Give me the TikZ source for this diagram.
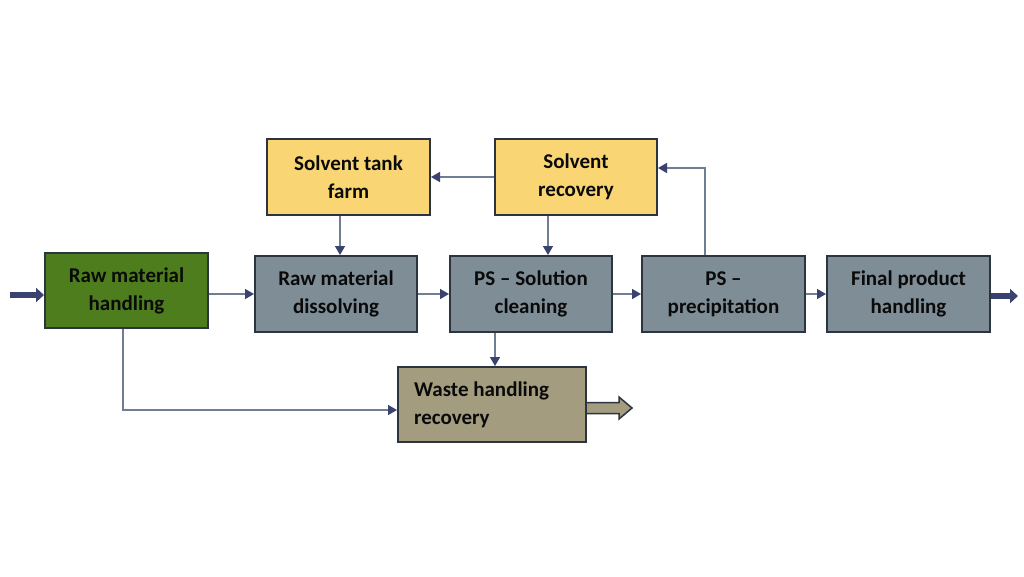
\documentclass[tikz,border=0pt]{standalone}
\usepackage{fontspec}
\setmainfont{Carlito}
\usetikzlibrary{arrows.meta}
\definecolor{bordc}{HTML}{2B3440}
\definecolor{greenc}{HTML}{4E7D1E}
\definecolor{grayc}{HTML}{7E8D96}
\definecolor{yellc}{HTML}{F9D673}
\definecolor{tanc}{HTML}{A49C7F}
\definecolor{linec}{HTML}{6F7D95}
\definecolor{navyc}{HTML}{3A4270}
\definecolor{txtc}{HTML}{0A0A0A}
\tikzset{
  boxfont/.style={font=\fontsize{21}{28}\selectfont\bfseries, text=txtc},
  box/.style={draw=bordc, line width=2pt, inner sep=0pt, align=center, boxfont},
  conn/.style={draw=linec, line width=1.5pt,
    -{Triangle[length=9pt,width=10pt,color=navyc]}},
}
\begin{document}
\begin{tikzpicture}[x=1pt,y=-1pt]
\useasboundingbox (0,0) rectangle (1024,576);
\fill[white] (0,0) rectangle (1024,576);
\node[box, fill=greenc, minimum width=163pt, minimum height=75pt] (rmh) at (126.5,290.5) {Raw material\\handling};
\node[box, fill=grayc, minimum width=162pt, minimum height=76pt] (rmd) at (336,294) {Raw material\\dissolving};
\node[box, fill=grayc, minimum width=162pt, minimum height=76pt] (psc) at (531,294) {PS – Solution\\cleaning};
\node[box, fill=grayc, minimum width=163pt, minimum height=76pt] (psp) at (723.5,294) {PS –\\precipitation};
\node[box, fill=grayc, minimum width=163pt, minimum height=76pt] (fph) at (908.5,294) {Final product\\handling};
\node[box, fill=yellc, minimum width=163pt, minimum height=76pt] (stf) at (348.5,177) {Solvent tank\\farm};
\node[box, fill=yellc, minimum width=162pt, minimum height=76pt] (sr) at (576,177) {Solvent\\recovery};
\node[box, fill=tanc, minimum width=188pt, minimum height=75pt] (wh) at (492,404.5) {};
\node[anchor=west, align=left, inner sep=0pt, boxfont] (whtxt) at (414,405) {Waste handling\\recovery};

% connectors
\draw[conn] (rmh.east |- rmd.west) -- (rmd.west);
\draw[conn] (rmd.east) -- (psc.west);
\draw[conn] (psc.east) -- (psp.west);
\draw[conn] (psp.east) -- (fph.west);
\draw[conn] ([xshift=-8.5pt]stf.south) -- ([xshift=-8.5pt]stf.south |- rmd.north);
\draw[conn] ([xshift=-28pt]sr.south) -- ([xshift=-28pt]sr.south |- psc.north);
\draw[conn] (sr.west) -- (stf.east);
\draw[conn] ([xshift=-18.5pt]psp.north) |- ([yshift=9pt]sr.east);
\draw[conn] ([xshift=-36pt]psc.south) -- ([xshift=-36pt]psc.south |- wh.north);
\draw[conn] ([xshift=-3.5pt]rmh.south) |- ([yshift=-5.5pt]wh.west);

% fat arrows
\coordinate (inA) at (10,295);
\draw[navyc, line width=6pt, -{Triangle[length=8pt,width=14pt]}] (inA) -- (rmh.west |- inA);
\coordinate (outA) at (1018,296);
\draw[navyc, line width=6pt, -{Triangle[length=8pt,width=14pt]}] (fph.east |- outA) -- (outA);
\draw[bordc, line width=1.5pt, fill=tanc] (587,402.5) -- (619,402.5) -- (619,397) -- (632,408) -- (619,419) -- (619,413.5) -- (587,413.5);
\end{tikzpicture}
\end{document}
